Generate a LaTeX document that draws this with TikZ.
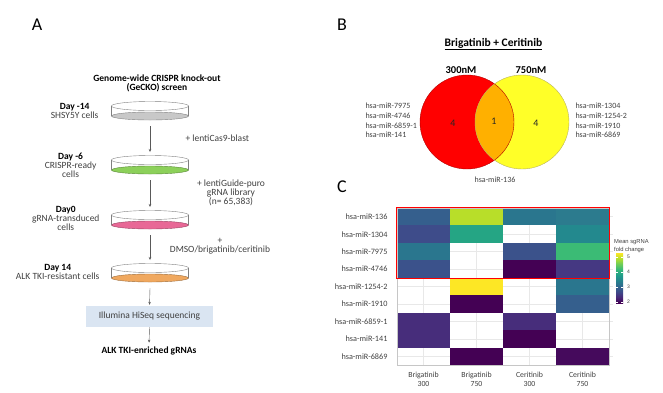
\documentclass[tikz,border=0pt]{standalone}
\usepackage{fontspec}
\setmainfont{Carlito}
\newfontfamily\arialfont{Liberation Sans}
\usepackage{xcolor}
\definecolor{txtgray}{RGB}{64, 64, 64}
\definecolor{dishgray}{RGB}{200, 200, 200}
\definecolor{dishgreen}{RGB}{140, 208, 90}
\definecolor{dishpink}{RGB}{232, 104, 150}
\definecolor{dishorange}{RGB}{240, 168, 95}
\definecolor{boxblue}{RGB}{218, 229, 242}
\definecolor{vennred}{RGB}{255, 0, 0}
\definecolor{vennyellow}{RGB}{255, 255, 40}
\definecolor{vennorange}{RGB}{255, 176, 0}
\definecolor{vir20}{HTML}{440154}
\definecolor{vir21}{HTML}{450A5C}
\definecolor{vir23}{HTML}{472D7B}
\definecolor{vir24}{HTML}{453882}
\definecolor{vir25}{HTML}{3E4C8A}
\definecolor{vir26}{HTML}{3B528B}
\definecolor{vir27}{HTML}{355F8D}
\definecolor{vir30}{HTML}{2A768E}
\definecolor{vir31}{HTML}{2C7B8E}
\definecolor{vir35}{HTML}{23898E}
\definecolor{vir40}{HTML}{25A584}
\definecolor{vir43}{HTML}{3BBB75}
\definecolor{vir48}{HTML}{B8DE29}
\definecolor{vir51}{HTML}{FDE725}
\definecolor{vg0}{HTML}{440154}
\definecolor{vg1}{HTML}{482878}
\definecolor{vg2}{HTML}{3E4A89}
\definecolor{vg3}{HTML}{31688E}
\definecolor{vg4}{HTML}{26828E}
\definecolor{vg5}{HTML}{1F9E89}
\definecolor{vg6}{HTML}{35B779}
\definecolor{vg7}{HTML}{6DCD59}
\definecolor{vg8}{HTML}{B4DE2C}
\definecolor{vg9}{HTML}{FDE725}
\usepackage{tikz}
\usetikzlibrary{arrows.meta}
\pgfdeclareverticalshading{viridis}{100bp}{color(0bp)=(vg0); color(25bp)=(vg0); color(30.56bp)=(vg1); color(36.11bp)=(vg2); color(41.67bp)=(vg3); color(47.22bp)=(vg4); color(52.78bp)=(vg5); color(58.33bp)=(vg6); color(63.89bp)=(vg7); color(69.44bp)=(vg8); color(75bp)=(vg9); color(100bp)=(vg9)}

% petri dish: name, x, y of rim, colour of the cells
\newcommand{\petri}[4]{%
	\filldraw[fill=#4, draw=#4!65!black, thin] (#2, #3+10) ellipse (38.5 and 4);
	\draw[gray, thin] (#2-38.5, #3) -- (#2-38.5, #3+10) (#2+38.5, #3) -- (#2+38.5, #3+10);
	\draw[gray, thin] (#2, #3) ellipse (38.5 and 4.5);
	\coordinate (#1top) at (#2, #3-8);
	\coordinate (#1bot) at (#2, #3+20);
}
% heatmap tile: column, row, colour
\newcommand{\hmtile}[3]{\fill[#3] (397+53*#1, 208+17.45*#2) rectangle ++(53, 17.45);}

\begin{document}
\begin{tikzpicture}[x=1pt, y=-1pt,
	panel/.style={font=\fontsize{18}{18}\selectfont},
	daytext/.style={anchor=east, align=center, text=txtgray, font=\fontsize{9.5}{9}\selectfont},
	steptext/.style={align=center, text=txtgray, font=\fontsize{9.5}{9}\selectfont},
	flow/.style={-{Stealth[length=3pt, width=2.5pt]}, gray!70!black, thin},
	mirtext/.style={align=left, text=txtgray, font=\fontsize{8}{9.7}\selectfont},
	venncount/.style={text=black!85, font=\fontsize{10}{10}\selectfont},
	rowtext/.style={anchor=east, text=txtgray, font=\fontsize{8.2}{9}\selectfont},
	coltext/.style={align=center, text=txtgray, font=\fontsize{7.8}{9}\selectfont},
	gridline/.style={gray!18, line width=0.5pt}]
	\useasboundingbox (0, 0) rectangle (663, 392);

	% ---- A
	\node[panel] (labA) at (37, 25) {A};
	\node[align=center, font=\bfseries\fontsize{9.5}{9}\selectfont] (title) at (157, 83.5) {Genome-wide CRISPR knock-out\\(GeCKO) screen};

	\petri{d1}{150}{106}{dishgray}
	\petri{d2}{150}{160}{dishgreen}
	\petri{d3}{150}{215}{dishpink}
	\petri{d4}{150}{268}{dishorange}

	\node[daytext] (day1) at (102, 110.5) {\textbf{\color{black}Day -14}\\SHSY5Y cells};
	\node[daytext] (day2) at (100, 165.5) {\textbf{\color{black}Day -6}\\CRISPR-ready\\cells};
	\node[daytext] (day3) at (103, 218) {\textbf{\color{black}Day0}\\gRNA-transduced\\cells};
	\node[daytext] (day4) at (103, 272) {\textbf{\color{black}Day 14}\\ALK TKI-resistant cells};

	\node[steptext, anchor=west] (cas9) at (182, 138) {+ lentiCas9-blast};
	\node[steptext] (guide) at (231, 193) {+ lentiGuide-puro\\gRNA library\\(n= 65,383)};
	\node[steptext] (drug) at (220, 246.5) {+\\DMSO/brigatinib/ceritinib};

	\node[fill=boxblue, minimum width=127, minimum height=21, inner sep=0pt, font=\fontsize{9.5}{9}\selectfont, text=txtgray] (seq) at (149.5, 316.5) {Illumina HiSeq sequencing};
	\node[font=\bfseries\fontsize{9.5}{9}\selectfont, inner sep=1pt] (enriched) at (149, 351) {ALK TKI-enriched gRNAs};

	\draw[flow] (d1bot) -- (d2top);
	\draw[flow] (d2bot) -- (d3top);
	\draw[flow] (d3bot) -- (d4top);
	\draw[flow, shorten >=1pt] (d4bot) -- (seq.north);
	\draw[flow, shorten >=3pt] (seq.south) -- (enriched.north);

	% ---- B
	\node[panel] (labB) at (342, 25) {B};
	\node[font=\bfseries\fontsize{11.5}{12}\selectfont] (venntitle) at (493.5, 44) {\underline{Brigatinib + Ceritinib}};
	\node[font=\bfseries\fontsize{10.5}{11}\selectfont] (n300) at (461, 70) {300nM};
	\node[font=\bfseries\fontsize{10.5}{11}\selectfont] (n750) at (531, 70) {750nM};

	\coordinate (c300) at (467, 122);
	\coordinate (c750) at (522, 122);
	\fill[vennred] (c300) circle (47);
	\fill[vennyellow] (c750) circle (47);
	\begin{scope}
		\clip (c300) circle (47);
		\fill[vennorange] (c750) circle (47);
	\end{scope}
	\draw[red!70!black, thin] (c300) circle (47);
	\draw[yellow!60!black!80, thin] (c750) circle (47);

	\node[venncount] (only300) at (453, 123) {4};
	\node[venncount] (both) at (494, 121) {1};
	\node[venncount] (only750) at (536, 123) {4};

	\node[mirtext, anchor=west] (mirsleft) at (362, 120.5) {hsa-miR-7975\\hsa-miR-4746\\hsa-miR-6859-1\\hsa-miR-141};
	\node[mirtext, anchor=west] (mirsright) at (572, 120.5) {hsa-miR-1304\\hsa-miR-1254-2\\hsa-miR-1910\\hsa-miR-6869};
	\node[mirtext] (mirboth) at (495, 180) {hsa-miR-136};

	% ---- C
	\node[panel] (labC) at (342, 187) {C};

	\draw[gridline] (423.5, 208) -- (423.5, 365) (476.5, 208) -- (476.5, 365) (529.5, 208) -- (529.5, 365) (582.5, 208) -- (582.5, 365);
	\draw[gridline] (397, 216.7) -- (613, 216.7) (397, 234.2) -- (613, 234.2) (397, 251.6) -- (613, 251.6) (397, 269.1) -- (613, 269.1) (397, 286.5) -- (613, 286.5) (397, 304.0) -- (613, 304.0) (397, 321.4) -- (613, 321.4) (397, 338.9) -- (613, 338.9) (397, 356.3) -- (613, 356.3);

	\hmtile{0}{0}{vir27} \hmtile{1}{0}{vir48} \hmtile{2}{0}{vir30} \hmtile{3}{0}{vir31}
	\hmtile{0}{1}{vir25} \hmtile{1}{1}{vir40} \hmtile{3}{1}{vir35}
	\hmtile{0}{2}{vir30} \hmtile{2}{2}{vir26} \hmtile{3}{2}{vir43}
	\hmtile{0}{3}{vir26} \hmtile{2}{3}{vir20} \hmtile{3}{3}{vir24}
	\hmtile{1}{4}{vir51} \hmtile{3}{4}{vir30}
	\hmtile{1}{5}{vir20} \hmtile{3}{5}{vir27}
	\hmtile{0}{6}{vir23} \hmtile{2}{6}{vir23}
	\hmtile{0}{7}{vir23} \hmtile{2}{7}{vir20}
	\hmtile{1}{8}{vir20} \hmtile{3}{8}{vir21}

	\draw[gray!45, thin] (397, 208) rectangle (609, 365);
	\draw[red, line width=1.3pt] (396.5, 207.5) rectangle (609.5, 278.8);

	\node[rowtext] (r1) at (391, 216.7) {hsa-miR-136};
	\node[rowtext] (r2) at (391, 234.2) {hsa-miR-1304};
	\node[rowtext] (r3) at (391, 251.6) {hsa-miR-7975};
	\node[rowtext] (r4) at (391, 269.1) {hsa-miR-4746};
	\node[rowtext] (r5) at (391, 286.5) {hsa-miR-1254-2};
	\node[rowtext] (r6) at (391, 304.0) {hsa-miR-1910};
	\node[rowtext] (r7) at (391, 321.4) {hsa-miR-6859-1};
	\node[rowtext] (r8) at (391, 338.9) {hsa-miR-141};
	\node[rowtext] (r9) at (391, 356.3) {hsa-miR-6869};

	\node[coltext] (k1) at (423.5, 379) {Brigatinib\\300};
	\node[coltext] (k2) at (476.5, 379) {Brigatinib\\750};
	\node[coltext] (k3) at (529.5, 379) {Ceritinib\\300};
	\node[coltext] (k4) at (582.5, 379) {Ceritinib\\750};

	% legend
	\node[anchor=west, align=left, inner sep=0pt, text=txtgray, font=\arialfont\fontsize{5.8}{7.5}\selectfont] (legtitle) at (614, 246) {Mean sgRNA\\fold change};
	\shade[shading=viridis] (616, 253) rectangle (623, 303);
	\draw[white, line width=0.4pt] (616, 257) -- (617.6, 257) (621.4, 257) -- (623, 257) (616, 272) -- (617.6, 272) (621.4, 272) -- (623, 272) (616, 287) -- (617.6, 287) (621.4, 287) -- (623, 287) (616, 302) -- (617.6, 302) (621.4, 302) -- (623, 302);
	\node[anchor=west, inner sep=0pt, text=txtgray, font=\arialfont\fontsize{5}{5}\selectfont] (t5) at (627, 257) {5};
	\node[anchor=west, inner sep=0pt, text=txtgray, font=\arialfont\fontsize{5}{5}\selectfont] (t4) at (627, 272) {4};
	\node[anchor=west, inner sep=0pt, text=txtgray, font=\arialfont\fontsize{5}{5}\selectfont] (t3) at (627, 287) {3};
	\node[anchor=west, inner sep=0pt, text=txtgray, font=\arialfont\fontsize{5}{5}\selectfont] (t2) at (627, 302) {2};
\end{tikzpicture}
\end{document}
